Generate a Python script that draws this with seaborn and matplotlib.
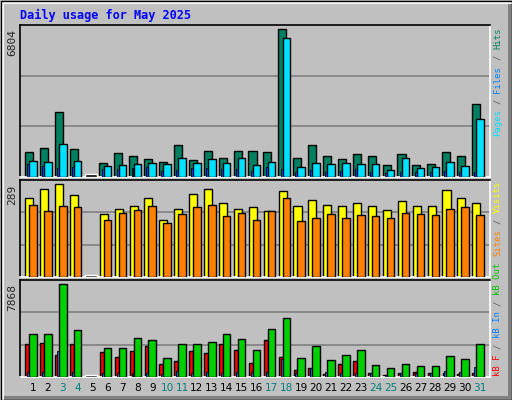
import matplotlib
matplotlib.use("Agg")
import matplotlib.pyplot as plt
import seaborn as sns
import numpy as np
from matplotlib.patches import Rectangle

sns.set_style("white")
plt.rcParams['font.family'] = ['DejaVu Sans']

days = list(range(1, 32))
weekend = [3, 4, 10, 11, 17, 18, 24, 25, 31]
hits = [1170,1354,3016,1308,0,662,1123,985,846,708,1493,800,1216,893,1216,1216,1170,6804,893,1493,985,846,1077,985,569,1077,569,616,1170,985,3386]
files = [754,708,1539,754,0,523,569,616,662,616,893,662,846,662,893,569,708,6387,477,662,616,662,616,616,339,893,431,477,708,523,2693]
pages = [616,523,431,477,0,385,385,431,477,292,339,431,431,385,385,292,477,385,246,339,246,292,385,246,200,246,246,246,292,246,246]
visits = [245,273,289,255,0,198,211,220,248,179,211,258,273,230,211,217,205,267,220,239,226,223,230,220,208,236,220,223,270,245,230]
sites = [226,205,223,217,0,179,201,208,220,167,198,217,226,189,201,179,205,245,176,183,195,183,192,189,183,201,195,192,211,217,192]
kb_out = [3645,3645,7868,3989,0,2440,2440,3300,3128,1579,2784,2784,2956,3645,3214,2267,4075,4936,1579,2612,1406,1837,2267,976,718,1062,890,890,1751,1492,2784]
kb_f = [2784,2870,1837,2784,0,2095,1665,2181,2612,1062,1320,2181,2009,2784,2267,1148,3128,1665,631,718,287,1062,1320,373,201,373,459,373,373,287,373]
kb_in = [430,430,2181,430,0,330,330,330,330,250,520,330,430,330,430,430,430,1492,330,718,430,330,330,330,200,330,330,330,545,430,804]

W, H = 512, 400
fig = plt.figure(figsize=(W/100, H/100), dpi=100)
fig.patch.set_facecolor('#C0C0C0')
fig.add_artist(Rectangle((1.5/W, 1.5/H), 1-3/W, 1-3/H, transform=fig.transFigure, fill=False, ec='white', lw=2))
fig.add_artist(Rectangle((4/W, 0), 1-4/W, 4/H, transform=fig.transFigure, fc='#808080', ec='none'))
fig.add_artist(Rectangle((1-4/W, 0), 4/W, 1-4/H, transform=fig.transFigure, fc='#808080', ec='none'))
fig.add_artist(Rectangle((0.5/W, 0.5/H), 1-1/W, 1-1/H, transform=fig.transFigure, fill=False, ec='black', lw=1))

x = np.array(days, dtype=float)

def mkax(top, bottom):
    ax = fig.add_axes([20/W, 1-bottom/H, 470/W, (bottom-top)/H])
    ax.set_facecolor('#C0C0C0')
    ax.set_xlim(0.128, 31.67)
    for s in ['left', 'top']:
        ax.spines[s].set_color('black')
    for s in ['right', 'bottom']:
        ax.spines[s].set_color('white')
    for s in ax.spines.values():
        s.set_linewidth(1.2)
    ax.set_yticks([])
    ax.tick_params(length=0)
    return ax

def grid(ax, top):
    for f in (1/3, 2/3):
        ax.axhline(top*f, color='#808080', lw=1.2, zorder=0)

def zero_marks(ax, vals, top):
    z = np.array(vals) == 0
    ax.bar(x[z] - 0.13, np.full(z.sum(), top*0.018), width=0.8, color='black', zorder=5)

bk = dict(edgecolor='black', linewidth=1.0, align='center')

ax1 = mkax(25, 177)
t1 = 7004
ax1.set_ylim(0, t1); grid(ax1, t1)
ax1.bar(x-0.27, hits, width=0.54, color='#008060', zorder=2, **bk)
ax1.bar(x, files, width=0.5, color='#00E0FF', zorder=3, **bk)
ax1.bar(x-0.32, pages, width=0.13, color='#0040FF', zorder=4, edgecolor='black', linewidth=0.6)
zero_marks(ax1, hits, t1)
ax1.set_xticks([])

ax2 = mkax(180, 277)
t2 = 302.6
ax2.set_ylim(0, t2); grid(ax2, t2)
ax2.bar(x-0.25, visits, width=0.54, color='#FFFF00', zorder=2, **bk)
ax2.bar(x, sites, width=0.5, color='#FF8000', zorder=3, **bk)
zero_marks(ax2, visits, t2)
ax2.set_xticks([])

ax3 = mkax(280, 377)
t3 = 8184
ax3.set_ylim(0, t3); grid(ax3, t3)
ax3.bar(x-0.38, kb_f, width=0.27, color='#FF0000', zorder=2, **bk)
ax3.bar(x-0.32, kb_in, width=0.13, color='#0080FF', zorder=3, edgecolor='black', linewidth=0.6)
ax3.bar(x, kb_out, width=0.5, color='#00D000', zorder=4, **bk)
zero_marks(ax3, kb_out, t3)
ax3.set_xticks(x)
ax3.set_xticklabels([str(d) for d in days], fontsize=7.6)
for lab, d in zip(ax3.get_xticklabels(), days):
    lab.set_color('#008080' if d in weekend else 'black')
ax3.tick_params(axis='x', pad=4)

for ax, mx, top in ((ax1, 6804, t1), (ax2, 289, t2), (ax3, 7868, t3)):
    ax.text(-0.006, mx/top, str(mx), transform=ax.transAxes, rotation=90,
            ha='right', va='top', fontsize=8, family='DejaVu Sans Mono')

fig.text(20/W, 1-15/H, 'Daily usage for May 2025', color='#0000FF', fontsize=8.6,
         family='DejaVu Sans Mono', weight='bold', va='center', ha='left')

cw = 5.45
def side(pieces, ybottom):
    y = ybottom
    for txt, col in pieces:
        fig.text(493/W, 1-(y-0.6)/H, txt, rotation=90, color=col, fontsize=6.4,
                 family='DejaVu Sans Mono', ha='left', va='bottom')
        y -= cw*(len(txt)+1)

side([('Pages', '#00E0FF'), ('/', '#606060'), ('Files', '#0080FF'), ('/', '#606060'), ('Hits', '#008060')], 137)
side([('Sites', '#FF8000'), ('/', '#606060'), ('Visits', '#FFFF00')], 257)
side([('kB F', '#FF0000'), ('/', '#606060'), ('kB In', '#0080FF'), ('/', '#606060'), ('kB Out', '#00C000')], 377)

fig.savefig('out.png', dpi=100, facecolor=fig.get_facecolor())
